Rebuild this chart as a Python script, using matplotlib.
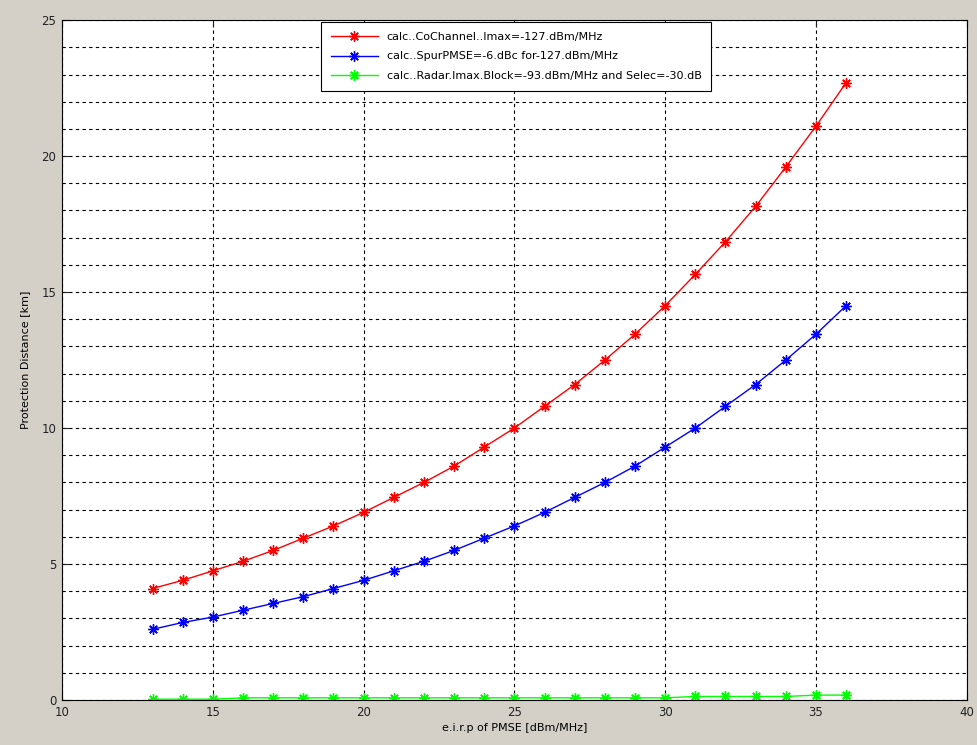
import numpy as np
import matplotlib.pyplot as plt
from matplotlib.ticker import MultipleLocator

# e.i.r.p values (dBm/MHz)
eirp = np.arange(13, 37)

# protection distances (km)
co_channel = [4.1, 4.4, 4.75, 5.1, 5.5, 5.95, 6.4, 6.9, 7.45, 8.0, 8.6, 9.3,
              10.0, 10.8, 11.6, 12.5, 13.45, 14.5, 15.65, 16.85, 18.15, 19.6,
              21.1, 22.7]
spur_pmse = [2.6, 2.85, 3.05, 3.3, 3.55, 3.8, 4.1, 4.4, 4.75, 5.1, 5.5, 5.95,
             6.4, 6.9, 7.45, 8.0, 8.6, 9.3, 10.0, 10.8, 11.6, 12.5, 13.45, 14.5]
radar_block = [0.03, 0.03, 0.03, 0.08, 0.08, 0.08, 0.08, 0.08, 0.08, 0.08,
               0.08, 0.08, 0.08, 0.08, 0.08, 0.08, 0.08, 0.08, 0.13, 0.13,
               0.13, 0.13, 0.18, 0.18]

labels = ["calc..CoChannel..Imax=-127.dBm/MHz",
          "calc..SpurPMSE=-6.dBc for-127.dBm/MHz",
          "calc..Radar.Imax.Block=-93.dBm/MHz and Selec=-30.dB"]
colors = ["#ff0000", "#0000ff", "#00ff00"]

fig = plt.figure(figsize=(9.77, 7.45), dpi=100, facecolor="#d4d0c8")
ax = fig.add_axes([0.0635, 0.0604, 0.926, 0.9126])

asterisk = (8, 2, 0)
for ys, c, lab in zip([co_channel, spur_pmse, radar_block], colors, labels):
    ax.plot(eirp, ys, color=c, lw=1.0, marker=asterisk, ms=7.5, mew=1.0,
            label=lab)

ax.set_xlim(10, 40)
ax.set_ylim(0, 25)
ax.xaxis.set_major_locator(MultipleLocator(5))
ax.yaxis.set_major_locator(MultipleLocator(5))
ax.yaxis.set_minor_locator(MultipleLocator(1))

# matlab-ish grid: dashed at majors, plus every 1 km on y
ax.grid(True, which="major", color="black", ls=(0, (3, 3)), lw=0.8)
ax.grid(True, which="minor", axis="y", color="black", ls=(0, (3, 3)), lw=0.8)
ax.tick_params(which="major", direction="in", top=True, right=True,
               length=5, labelsize=8.5, colors="#222222", pad=4)
ax.tick_params(which="minor", length=0)
for s in ax.spines.values():
    s.set_color("black")
    s.set_linewidth(0.8)

ax.set_xlabel("e.i.r.p of PMSE [dBm/MHz]", fontsize=8, labelpad=3)
ax.set_ylabel("Protection Distance [km]", fontsize=8, labelpad=8)

leg = ax.legend(loc="upper center", bbox_to_anchor=(0.502, 1.0), fontsize=8,
                handlelength=4.2, fancybox=False, framealpha=1,
                edgecolor="black", borderaxespad=0.15, labelspacing=0.87,
                borderpad=0.9)
leg.get_frame().set_linewidth(0.8)

fig.savefig("out.png", dpi=100, facecolor=fig.get_facecolor())
